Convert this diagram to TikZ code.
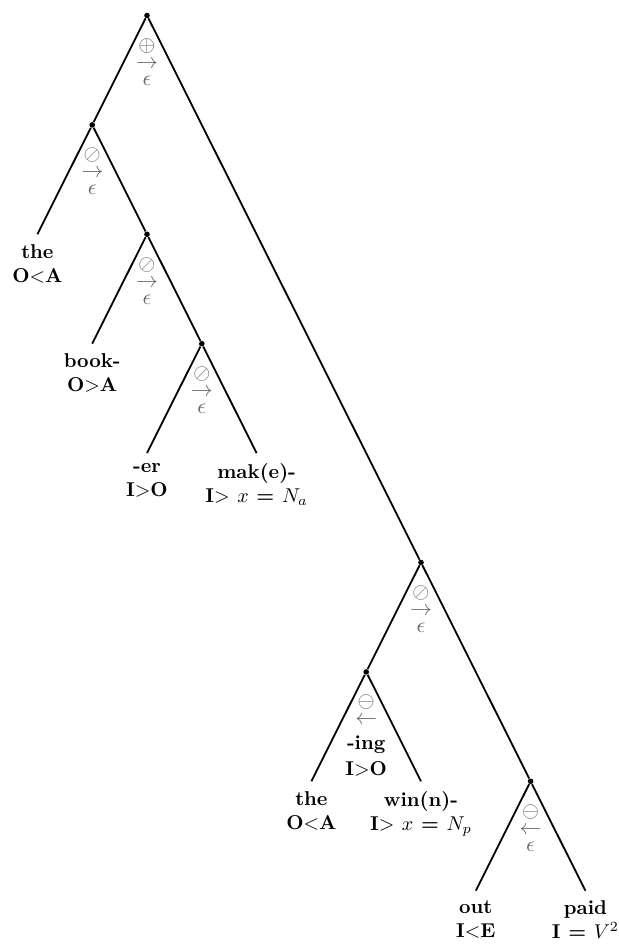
\documentclass[tikz,border=0pt]{standalone}
\begin{document}
\begin{tikzpicture}[x=0.5pt,y=-0.5pt,
  edge/.style={line width=0.9pt},
  dot/.style={circle,fill,inner sep=0pt,minimum size=2.8pt},
  sym/.style={text=black!60,inner sep=0pt,align=center,anchor=north,
    font=\fontsize{11}{13}\selectfont},
  leaf/.style={align=center,anchor=north,inner sep=0pt,font=\bfseries},
  mid/.style={align=center,anchor=north,inner sep=0pt,font=\bfseries},
]
\useasboundingbox (0,0) rectangle (619,950);
% internal nodes
\node[dot] (root) at (147,15.5) {};
\node[dot] (A) at (92.2,124.9) {};
\node[dot] (B) at (147,234.3) {};
\node[dot] (C) at (201.8,343.7) {};
\node[dot] (D) at (421,562.5) {};
\node[dot] (E) at (366.2,671.9) {};
\node[dot] (F) at (530.6,781.3) {};
% leaf ends
\coordinate (l1) at (37.4,234.3);
\coordinate (l2) at (92.2,343.7);
\coordinate (l3) at (147,453.1);
\coordinate (l4) at (256.6,453.1);
\coordinate (l5) at (311.4,781.3);
\coordinate (l6) at (421,781.3);
\coordinate (l7) at (475.8,890.7);
\coordinate (l8) at (585.4,890.7);
% edges
\draw[edge] (root) -- (A);
\draw[edge] (root) -- (D);
\draw[edge] (A) -- (l1);
\draw[edge] (A) -- (B);
\draw[edge] (B) -- (l2);
\draw[edge] (B) -- (C);
\draw[edge] (C) -- (l3);
\draw[edge] (C) -- (l4);
\draw[edge] (D) -- (E);
\draw[edge] (D) -- (F);
\draw[edge] (E) -- (l5);
\draw[edge] (E) -- (l6);
\draw[edge] (F) -- (l7);
\draw[edge] (F) -- (l8);
% operator labels
\node[sym] (root-op) at ([yshift=-11.3pt]root) {$\oplus$\\[-4.5pt]$\rightarrow$\\[-4.5pt]$\epsilon$};
\node[sym] (A-op) at ([yshift=-11.3pt]A) {$\oslash$\\[-4.5pt]$\rightarrow$\\[-4.5pt]$\epsilon$};
\node[sym] (B-op) at ([yshift=-11.3pt]B) {$\oslash$\\[-4.5pt]$\rightarrow$\\[-4.5pt]$\epsilon$};
\node[sym] (C-op) at ([yshift=-11.3pt]C) {$\oslash$\\[-4.5pt]$\rightarrow$\\[-4.5pt]$\epsilon$};
\node[sym] (D-op) at ([yshift=-11.3pt]D) {$\oslash$\\[-4.5pt]$\rightarrow$\\[-4.5pt]$\epsilon$};
\node[sym] (E-op) at ([yshift=-11.3pt]E) {$\ominus$\\[-4.5pt]$\leftarrow$};
\node[mid] (E-txt) at ([yshift=-31.5pt]E) {-ing\\[1pt]I$>$O};
\node[sym] (F-op) at ([yshift=-11.3pt]F) {$\ominus$\\[-4.5pt]$\leftarrow$\\[-4.5pt]$\epsilon$};
% leaf labels
\node[leaf] (t1) at ([yshift=-5pt]l1) {the\\O$<$A};
\node[leaf] (t2) at ([yshift=-5pt]l2) {book-\\O$>$A};
\node[leaf] (t3) at ([yshift=-5pt]l3) {-er\\I$>$O};
\node[leaf] (t4) at ([yshift=-5pt]l4) {mak(e)-\\I$>$ $x$ = $N_a$};
\node[leaf] (t5) at ([yshift=-5pt]l5) {the\\O$<$A};
\node[leaf] (t6) at ([yshift=-5pt]l6) {win(n)-\\I$>$ $x$ = $N_p$};
\node[leaf] (t7) at ([yshift=-5pt]l7) {out\\I$<$E};
\node[leaf] (t8) at ([yshift=-5pt]l8) {paid\\I = $V^2$};
\end{tikzpicture}
\end{document}
